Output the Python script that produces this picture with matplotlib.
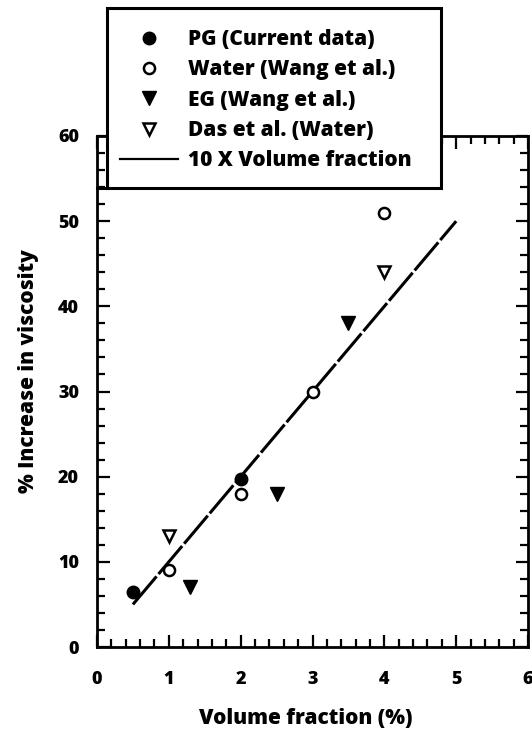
import matplotlib.pyplot as plt
from matplotlib.lines import Line2D
from matplotlib.patches import Rectangle
from matplotlib.ticker import MultipleLocator

plt.rcParams['font.family'] = ['Open Sans', 'DejaVu Sans']
plt.rcParams['font.weight'] = 800

# data
pg_x = [0.5, 2.0]
pg_y = [6.5, 19.7]
water_x = [1.0, 2.0, 3.0, 4.0]
water_y = [9.0, 18.0, 30.0, 51.0]
eg_x = [1.3, 2.5, 3.5]
eg_y = [7.0, 18.0, 38.0]
das_x = [1.0, 4.0]
das_y = [13.0, 44.0]
fit_x = [0.5, 5.0]
fit_y = [5.0, 50.0]

W, H = 532, 736
fig = plt.figure(figsize=(W / 100, H / 100), dpi=100)
ax = fig.add_axes([97 / W, 1 - 647 / H, (528 - 97) / W, (647 - 136) / H])

ax.plot(fit_x, fit_y, color='black', lw=2.2, ls=(0, (12, 1)), zorder=2)
ax.plot(pg_x, pg_y, 'o', ms=9, color='black', zorder=3)
ax.plot(water_x, water_y, 'o', ms=8, mfc='white', mec='black', mew=1.8, zorder=3)
ax.plot(eg_x, eg_y, 'v', ms=10, color='black', zorder=3)
ax.plot(das_x, das_y, 'v', ms=9, mfc='white', mec='black', mew=1.8, zorder=3)

ax.set_xlim(0, 6)
ax.set_ylim(0, 60)
ax.xaxis.set_major_locator(MultipleLocator(1))
ax.xaxis.set_minor_locator(MultipleLocator(0.2))
ax.yaxis.set_major_locator(MultipleLocator(10))
ax.yaxis.set_minor_locator(MultipleLocator(2))
ax.tick_params(which='both', direction='in', top=True, right=True, width=1.6)
ax.tick_params(which='major', length=9)
ax.tick_params(which='minor', length=6)
ax.tick_params(axis='x', which='major', pad=17, labelsize=13)
ax.tick_params(axis='y', which='major', pad=13, labelsize=13)
for s in ax.spines.values():
    s.set_linewidth(2)

ax.set_xlabel('Volume fraction (%)', fontsize=15, fontweight=800)
ax.set_ylabel('% Increase in viscosity', fontsize=15, fontweight=800)
ax.xaxis.set_label_coords(0.485, -0.12)
ax.yaxis.set_label_coords(-0.135, 0.54)

# legend frame sticks out above the axes
fig.add_artist(Rectangle((107 / W, 1 - 188 / H), (441 - 107) / W, (188 - 8) / H,
                         transform=fig.transFigure, facecolor='white',
                         edgecolor='black', lw=2.2, zorder=5))
fig.add_artist(Line2D([97 / W, 107 / W], [1 - 188 / H, 1 - 188 / H],
                      transform=fig.transFigure, color='black', lw=2.2, zorder=5))

handles = [
    Line2D([], [], ls='none', marker='o', ms=9, color='black'),
    Line2D([], [], ls='none', marker='o', ms=8, mfc='white', mec='black', mew=1.8),
    Line2D([], [], ls='none', marker='v', ms=10, color='black'),
    Line2D([], [], ls='none', marker='v', ms=9, mfc='white', mec='black', mew=1.8),
    Line2D([], [], color='black', lw=1.6),
]
labels = ['PG (Current data)', 'Water (Wang et al.)', 'EG (Wang et al.)',
          'Das et al. (Water)', '10 X Volume fraction']
leg = fig.legend(handles, labels, loc='upper left',
                 bbox_to_anchor=(120 / W, 1 - 29 / H), frameon=False,
                 borderpad=0, borderaxespad=0, handlelength=2.8,
                 handletextpad=0.45, labelspacing=0.45,
                 prop={'size': 15, 'weight': 800})
leg.set_zorder(6)

fig.savefig('out.png', dpi=100, facecolor='white')
